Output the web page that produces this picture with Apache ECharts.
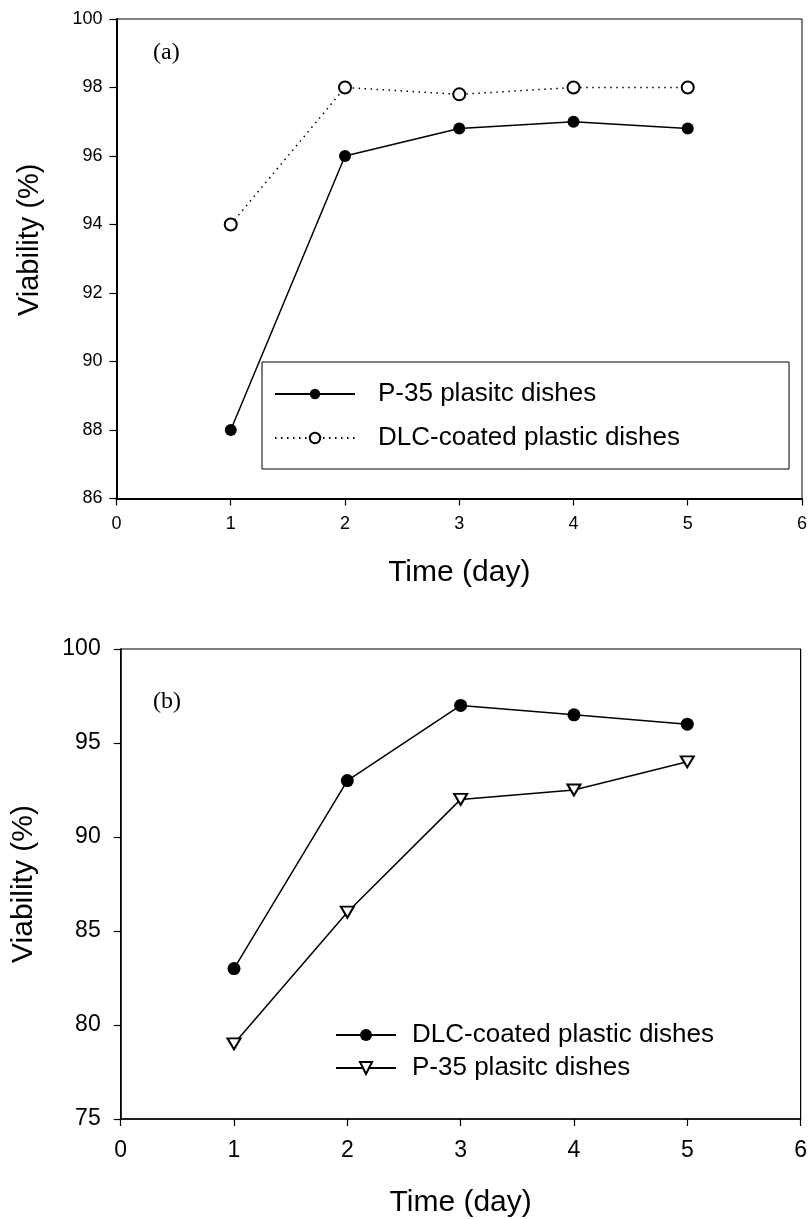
<!DOCTYPE html>
<html><head><meta charset="utf-8">
<script src="https://cdn.jsdelivr.net/npm/echarts@6/dist/echarts.min.js"></script>
<style>html,body{margin:0;padding:0;background:#fff}#c{width:810px;height:1219px}</style>
</head><body><div id="c"></div>
<script>
// ---- data ----
const days = [1, 2, 3, 4, 5];
const topP35 = [88, 96, 96.8, 97, 96.8];
const topDLC = [94, 98, 97.8, 98, 98];
const botDLC = [83, 93, 97, 96.5, 96];
const botP35 = [79, 86, 92, 92.5, 94];
const nameP35 = 'P-35 plasitc dishes';
const nameDLC = 'DLC-coated plastic dishes';
const panelLabels = ['(a)', '(b)'];
const xTitle = 'Time (day)';
const yTitle = 'Viability (%)';
const SUFFIX = ' \u200b(b)';

const pairs = arr => days.map((d, i) => [d, arr[i]]);
const SANS = '"Liberation Sans", Arial, sans-serif';
const SERIF = '"Liberation Serif", "Times New Roman", serif';

function xAxis(gi, fs, margin, gap, lw) {
  return {
    gridIndex: gi, type: 'value', min: 0, max: 6, interval: 1,
    name: xTitle, nameLocation: 'middle', nameGap: gap,
    nameTextStyle: { fontFamily: SANS, fontSize: 30, color: '#000' },
    axisLine: { lineStyle: { color: '#000', width: lw } },
    axisTick: { show: true, length: 7, lineStyle: { color: '#000', width: 1.2 } },
    axisLabel: { fontFamily: SANS, fontSize: fs, color: '#000', margin: margin },
    splitLine: { show: false }
  };
}
function yAxis(gi, min, max, interval, fs, margin, gap, nfs, pad, lw) {
  return {
    gridIndex: gi, type: 'value', min: min, max: max, interval: interval,
    name: yTitle, nameLocation: 'middle', nameGap: gap,
    nameTextStyle: { fontFamily: SANS, fontSize: nfs, color: '#000', padding: pad },
    axisLine: { show: true, lineStyle: { color: '#000', width: lw } },
    axisTick: { show: true, length: 7, lineStyle: { color: '#000', width: 1.2 } },
    axisLabel: { fontFamily: SANS, fontSize: fs, color: '#000', margin: margin },
    splitLine: { show: false }
  };
}

const chart = echarts.init(document.getElementById('c'), null, { renderer: 'canvas' });
chart.setOption({
  backgroundColor: '#fff',
  animation: false,
  grid: [
    { left: 116.5, right: 4, top: 19, height: 479.5, show: true, borderColor: '#000', borderWidth: 1, containLabel: false },
    { left: 120.7, right: 5, top: 649, height: 470, show: true, borderColor: '#000', borderWidth: 1.2, containLabel: false }
  ],
  xAxis: [xAxis(0, 18, 17, 59, 2), xAxis(1, 23, 20, 69, 1.5)],
  yAxis: [yAxis(0, 86, 100, 2, 18, 14, 72, 29, [0, 0, 0, 38], 2), yAxis(1, 75, 100, 5, 23, 20, 82, 30, [0, 0, 0, 0], 1.5)],
  legend: [
    {
      data: [nameP35, nameDLC], orient: 'vertical', left: 262, top: 362,
      itemWidth: 80, itemHeight: 13, itemGap: 14,
      padding: [17, 109, 16, 12], borderColor: '#000', borderWidth: 1,
      textStyle: { fontFamily: SANS, fontSize: 26, color: '#000', lineHeight: 30, padding: [0, 0, 0, 18] },
      selectedMode: false
    },
    {
      data: [nameDLC + SUFFIX, nameP35 + SUFFIX], orient: 'vertical', left: 335, top: 1021,
      itemWidth: 60, itemHeight: 15, itemGap: 5, padding: 0,
      formatter: n => n.replace(SUFFIX, ''),
      textStyle: { fontFamily: SANS, fontSize: 26, color: '#000', lineHeight: 28, padding: [0, 0, 0, 11] },
      selectedMode: false
    }
  ],
  series: [
    {
      name: nameP35, type: 'line', xAxisIndex: 0, yAxisIndex: 0, data: pairs(topP35),
      symbol: 'circle', symbolSize: 12, color: '#000',
      itemStyle: { color: '#000' }, lineStyle: { color: '#000', width: 1.5 }
    },
    {
      name: nameDLC, type: 'line', xAxisIndex: 0, yAxisIndex: 0, data: pairs(topDLC),
      symbol: 'emptyCircle', symbolSize: 12, color: '#000',
      itemStyle: { color: '#000', borderWidth: 1.3 }, lineStyle: { color: '#000', width: 1.5, type: [1.5, 4.5] }
    },
    {
      name: nameDLC + SUFFIX, type: 'line', xAxisIndex: 1, yAxisIndex: 1, data: pairs(botDLC),
      symbol: 'circle', symbolSize: 13, color: '#000',
      itemStyle: { color: '#000' }, lineStyle: { color: '#000', width: 1.5 }
    },
    {
      name: nameP35 + SUFFIX, type: 'line', xAxisIndex: 1, yAxisIndex: 1, data: pairs(botP35),
      symbol: 'emptyTriangle', symbolRotate: 180, symbolSize: [13, 11], color: '#000',
      itemStyle: { color: '#000', borderWidth: 1.3 }, lineStyle: { color: '#000', width: 1.5 }
    }
  ],
  graphic: [
    { type: 'text', x: 153, y: 53, style: { text: panelLabels[0], font: '24px ' + SERIF, fill: '#000', verticalAlign: 'middle' } },
    { type: 'text', x: 153, y: 702, style: { text: panelLabels[1], font: '24px ' + SERIF, fill: '#000', verticalAlign: 'middle' } }
  ]
});
</script></body></html>
